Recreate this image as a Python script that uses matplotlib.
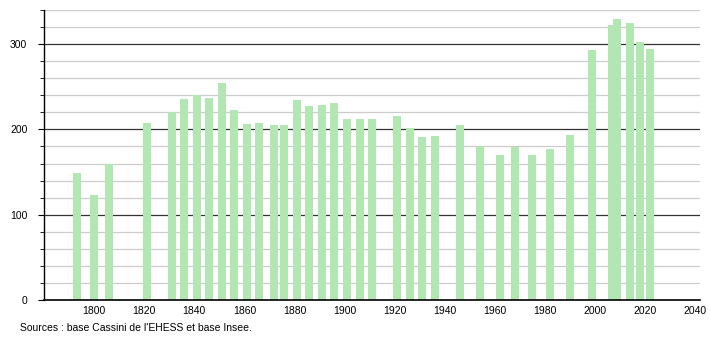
import matplotlib.pyplot as plt
from matplotlib.ticker import MultipleLocator

years = [1793, 1800, 1806, 1821, 1831, 1836, 1841, 1846, 1851, 1856,
         1861, 1866, 1872, 1876, 1881, 1886, 1891, 1896, 1901, 1906,
         1911, 1921, 1926, 1931, 1936, 1946, 1954, 1962, 1968, 1975,
         1982, 1990, 1999, 2007, 2009, 2014, 2018, 2022]
population = [149, 123, 160, 207, 220, 236, 240, 237, 255, 223,
              206, 207, 205, 205, 234, 228, 229, 231, 212, 212,
              212, 216, 202, 191, 192, 205, 181, 170, 179, 170,
              177, 193, 293, 322, 329, 325, 302, 294]
source = "Sources : base Cassini de l'EHESS et base Insee."

plt.rcParams['font.family'] = ['Liberation Sans', 'DejaVu Sans']

fig = plt.figure(figsize=(7.1, 3.4), dpi=100)
ax = fig.add_axes([0.062, 0.1176, 0.924, 0.853])

# grille : fine tous les 20, foncée tous les 100
for v in range(20, 341, 20):
    if v % 100 == 0:
        ax.axhline(v, color="#333333", lw=0.9, zorder=1)
    else:
        ax.axhline(v, color="#cccccc", lw=0.9, zorder=1)

ax.bar(years, population, width=3.2, color="#b2e6b2", zorder=2)

ax.set_xlim(1780, 2042)
ax.set_ylim(0, 340)
ax.set_xticks(range(1800, 2041, 20))
ax.yaxis.set_major_locator(MultipleLocator(100))
ax.yaxis.set_minor_locator(MultipleLocator(20))
ax.tick_params(axis="x", length=0, labelsize=7.5, pad=4)
ax.tick_params(axis="y", which="major", length=4, labelsize=7.5, pad=8)
ax.tick_params(axis="y", which="minor", length=3)

for s in ["top", "right"]:
    ax.spines[s].set_visible(False)
ax.spines["left"].set_linewidth(1)
ax.spines["bottom"].set_linewidth(1.2)

fig.text(20 / 710, 1 - 328 / 340, source, fontsize=7.5, va="center", ha="left")

fig.savefig("out.png", dpi=100)
